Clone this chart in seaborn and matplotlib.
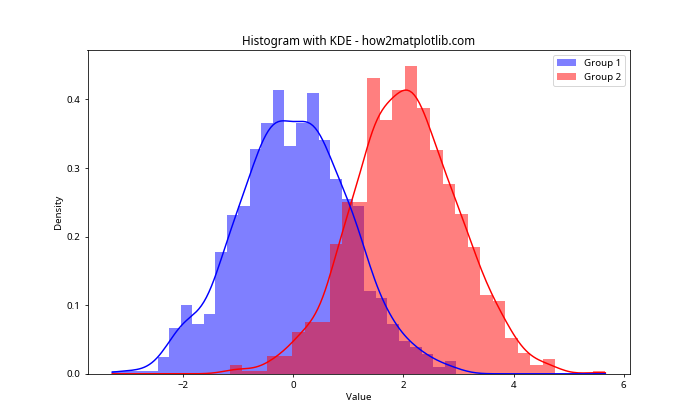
import numpy as np
import pandas as pd
import matplotlib
matplotlib.use("Agg")
import matplotlib.pyplot as plt
import seaborn as sns

# ---- data ----
groups = ["Group 1", "Group 2"]
colors = ["blue", "red"]

# histogram bin ranges (30 bins each)
g1_range = [-3.28, 2.96]
g2_range = [-1.15, 5.665]
n_bins = 30

# bar heights (density) per bin
g1_density = [0.0048, 0.0048, 0.0048, 0.0048, 0.0240, 0.0673, 0.1010, 0.0721,
              0.0865, 0.1779, 0.2308, 0.2452, 0.3270, 0.3654, 0.4135, 0.3317,
              0.3654, 0.4087, 0.3413, 0.2837, 0.2548, 0.2452, 0.1202, 0.1106,
              0.0721, 0.0481, 0.0385, 0.0288, 0.0096, 0.0192]
g2_density = [0.0132, 0.0044, 0.0044, 0.0264, 0.0264, 0.0616, 0.0748, 0.0748,
              0.1893, 0.2509, 0.2509, 0.4313, 0.3697, 0.4137, 0.4490, 0.3873,
              0.3257, 0.2773, 0.2333, 0.1849, 0.1144, 0.1056, 0.0528, 0.0308,
              0.0132, 0.0220, 0.0000, 0.0000, 0.0000, 0.0044]

# sample size per group (used for the KDE bandwidth)
n_samples = 1000

title = "Histogram with KDE - how2matplotlib.com"
x_label = "Value"
y_label = "Density"

# ---- build tables ----
def bin_table(rng, dens, name):
    edges = np.linspace(rng[0], rng[1], n_bins + 1)
    centers = (edges[:-1] + edges[1:]) / 2
    return edges.tolist(), pd.DataFrame({"value": centers, "w": dens, "group": name})

e1, df1 = bin_table(g1_range, g1_density, groups[0])
e2, df2 = bin_table(g2_range, g2_density, groups[1])
df_all = pd.concat([df1, df2], ignore_index=True)
support = (min(g1_range[0], g2_range[0]), max(g1_range[1], g2_range[1]))

plt.rcParams["font.family"] = ["Noto Sans", "DejaVu Sans"]
fig, ax = plt.subplots(figsize=(10, 6), dpi=70)

for df, edges, name, c in [(df1, e1, groups[0], colors[0]),
                           (df2, e2, groups[1], colors[1])]:
    sns.histplot(data=df, x="value", weights="w", bins=edges, stat="count",
                 color=c, alpha=0.5, edgecolor="none", linewidth=0,
                 label=name, ax=ax)

sns.kdeplot(data=df_all, x="value", weights="w", hue="group",
            hue_order=groups, palette=dict(zip(groups, colors)),
            common_norm=False, common_grid=True,
            bw_method=n_samples ** (-1 / 5), cut=3, clip=support,
            linewidth=1.5, legend=False, ax=ax)

ax.set_title(title, fontsize=12)
ax.set_xlabel(x_label, fontsize=10)
ax.set_ylabel(y_label, fontsize=10)
ax.legend(loc="upper right")

fig.savefig("out.png", dpi=70)
